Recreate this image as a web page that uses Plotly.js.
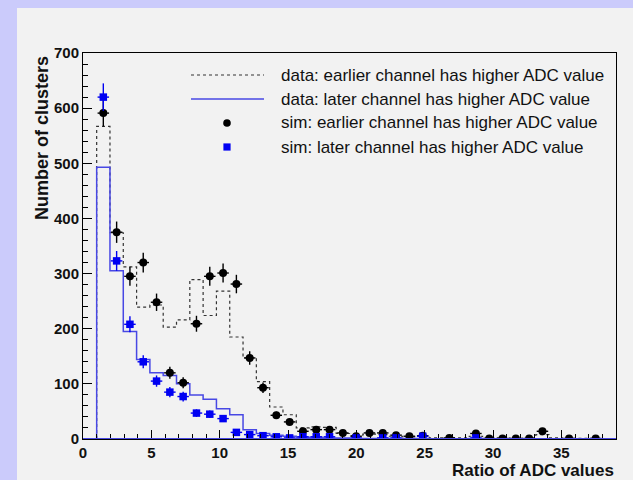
<!DOCTYPE html>
<html>
<head>
<meta charset="utf-8">
<script src="https://cdn.plot.ly/plotly-3.0.1.min.js"></script>
<style>
  html, body { margin: 0; padding: 0; width: 633px; height: 480px; overflow: hidden; background: #cbcbfb; }
  #chart { position: absolute; left: 17px; top: 8px; width: 616px; height: 472px; }
</style>
</head>
<body>
<div id="chart"></div>
<script>
// Binning of the ADC-ratio histograms: 38 equal bins from 1 to 38
const binLow = 1;
const binHigh = 38;
const nBins = 38;

// Measured cluster counts per bin
const dataEarlier = [567, 374, 312, 239, 243, 203, 216, 289, 224, 268,
                     185, 147, 104, 58, 44, 20, 22, 21, 10, 6,
                     9, 8, 5, 4, 5, 2, 2, 2, 5, 2,
                     2, 1, 2, 8, 2, 1, 1, 1];
const dataLater   = [493, 305, 195, 144, 120, 115, 100, 80, 72, 55,
                     44, 17, 10, 7, 5, 3, 3, 2, 2, 1,
                     1, 1, 1, 1, 1, 0, 0, 0, 1, 0,
                     0, 0, 0, 0, 0, 0, 0, 0];

// Simulated cluster counts per bin (null = empty bin, not drawn)
const simEarlier  = [591, 375, 295, 320, 248, 120, 102, 209, 295, 301,
                     281, 147, 93, 43, 31, 14, 17, 17, 11, 5,
                     11, 11, 7, 5, 6, null, 2, null, 10, 1,
                     1, 1, 1, 14, null, 1, null, 1];
const simLater    = [620, 323, 208, 140, 105, 85, 77, 47, 45, 37,
                     12, 8, 6, 4, 2, 4, 4, 4, null, 2,
                     null, 2, 2, null, 5, null, null, null, 2, null,
                     null, null, null, null, null, null, null, null];

const seriesNames = [
  'data: earlier channel has higher ADC value',
  'data: later channel has higher ADC value',
  'sim: earlier channel has higher ADC value',
  'sim: later channel has higher ADC value'
];

const FONT = 'Liberation Sans, Arial, Helvetica, sans-serif';
const BLUE_LINE = '#4848e4';
const BLUE_MARK = '#0000f2';

// bin edges and centres
const binWidth = (binHigh - binLow) / nBins;
const edges = Array.from({length: nBins + 1}, (_, i) => binLow + i * binWidth);
const centres = Array.from({length: nBins}, (_, i) => binLow + (i + 0.5) * binWidth);

// step outline of a histogram, closed down to zero at both ends
function stepOutline(vals) {
  const x = [edges[0]], y = [0];
  for (let i = 0; i < vals.length; i++) { x.push(edges[i]); y.push(vals[i]); }
  x.push(edges[nBins]); y.push(0);
  return {x, y};
}

const earlierStep = stepOutline(dataEarlier);
const laterStep = stepOutline(dataLater);

const traces = [
  {
    type: 'scatter', mode: 'lines', name: seriesNames[0],
    x: earlierStep.x, y: earlierStep.y,
    line: {shape: 'hv', color: '#333333', width: 1.2, dash: '3px,3px'},
    hoverinfo: 'skip'
  },
  {
    type: 'scatter', mode: 'lines', name: seriesNames[1],
    x: laterStep.x, y: laterStep.y,
    line: {shape: 'hv', color: BLUE_LINE, width: 1.5},
    hoverinfo: 'skip'
  },
  {
    type: 'scatter', mode: 'markers', name: seriesNames[2],
    x: centres, y: simEarlier,
    marker: {symbol: 'circle', size: 8, color: '#000000'},
    error_y: {type: 'sqrt', color: '#000000', thickness: 1.4, width: 0},
    error_x: {type: 'constant', value: 0.42, color: '#000000', thickness: 1.4, width: 0}
  },
  {
    type: 'scatter', mode: 'markers', name: seriesNames[3],
    x: centres, y: simLater,
    marker: {symbol: 'square', size: 7.5, color: BLUE_MARK},
    error_y: {type: 'sqrt', color: BLUE_MARK, thickness: 1.4, width: 0},
    error_x: {type: 'constant', value: 0.42, color: BLUE_MARK, thickness: 1.4, width: 0}
  }
];

// plot-area geometry (px inside the chart div)
const W = 616, H = 472;
const M = {l: 66, r: 17, t: 45, b: 41};
const PW = W - M.l - M.r, PH = H - M.t - M.b;
const px = v => (v - M.l) / PW;          // div x-pixel -> paper
const py = v => 1 - (v - M.t) / PH;      // div y-pixel -> paper

// legend drawn inside the frame
const legRows = [67, 91, 115, 139];
const legSampleX0 = 174, legSampleX1 = 247, legMarkX = 210, legTextX = 262;
const shapes = [
  // baseline of the later-channel histogram along the axis
  {type: 'line', xref: 'paper', yref: 'y', x0: 0, x1: 1, y0: 0, y1: 0,
   line: {color: BLUE_LINE, width: 2}, layer: 'above'},
  {type: 'line', xref: 'paper', yref: 'paper', x0: px(legSampleX0), x1: px(legSampleX1),
   y0: py(legRows[0]), y1: py(legRows[0]), line: {color: '#333333', width: 1.2, dash: '3px,3px'}},
  {type: 'line', xref: 'paper', yref: 'paper', x0: px(legSampleX0), x1: px(legSampleX1),
   y0: py(legRows[1]), y1: py(legRows[1]), line: {color: BLUE_LINE, width: 1.5}},
  {type: 'circle', xref: 'paper', yref: 'paper', xsizemode: 'pixel', ysizemode: 'pixel',
   xanchor: px(legMarkX), yanchor: py(legRows[2]), x0: -3.8, x1: 3.8, y0: -3.8, y1: 3.8,
   fillcolor: '#000000', line: {width: 0}},
  {type: 'rect', xref: 'paper', yref: 'paper', xsizemode: 'pixel', ysizemode: 'pixel',
   xanchor: px(legMarkX), yanchor: py(legRows[3]), x0: -3.6, x1: 3.6, y0: -3.6, y1: 3.6,
   fillcolor: BLUE_MARK, line: {width: 0}}
];

const annotations = seriesNames.map((t, i) => ({
  text: t, xref: 'paper', yref: 'paper', x: px(legTextX), y: py(legRows[i]),
  xanchor: 'left', yanchor: 'middle', showarrow: false,
  font: {family: FONT, size: 17, color: '#111111'}
}));

// axis titles, ROOT-style: right/top aligned
annotations.push({
  text: 'Ratio of ADC values', xref: 'paper', yref: 'paper', x: 1, y: 0,
  xanchor: 'right', yanchor: 'middle', yshift: -31, showarrow: false,
  font: {family: FONT, size: 17, color: '#111111', weight: 'bold'}
});
annotations.push({
  text: 'Number of clusters', xref: 'paper', yref: 'paper', x: px(25), y: 1,
  xanchor: 'center', yanchor: 'top', yshift: -1, textangle: -90, showarrow: false,
  font: {family: FONT, size: 18, color: '#111111', weight: 'bold'}
});

const tickFont = {family: FONT, size: 15, color: '#111111', weight: 'bold'};

const layout = {
  width: W, height: H,
  margin: M,
  paper_bgcolor: '#f2f2f2',
  plot_bgcolor: '#f2f2f2',
  showlegend: false,
  xaxis: {
    range: [0, 39], tick0: 0, dtick: 5,
    ticks: 'inside', ticklen: 9, tickwidth: 1, tickcolor: '#000',
    minor: {ticks: 'inside', dtick: 1, ticklen: 5, tickwidth: 1, tickcolor: '#000'},
    showline: true, mirror: true, linecolor: '#000', linewidth: 1,
    showgrid: false, zeroline: false, tickfont: tickFont
  },
  yaxis: {
    range: [0, 700], tick0: 0, dtick: 100,
    ticks: 'inside', ticklen: 9, tickwidth: 1, tickcolor: '#000',
    minor: {ticks: 'inside', dtick: 20, ticklen: 5, tickwidth: 1, tickcolor: '#000'},
    showline: true, mirror: true, linecolor: '#000', linewidth: 1,
    showgrid: false, zeroline: false, tickfont: tickFont
  },
  shapes: shapes,
  annotations: annotations
};

Plotly.newPlot('chart', traces, layout, {displayModeBar: false, staticPlot: true});
</script>
</body>
</html>
